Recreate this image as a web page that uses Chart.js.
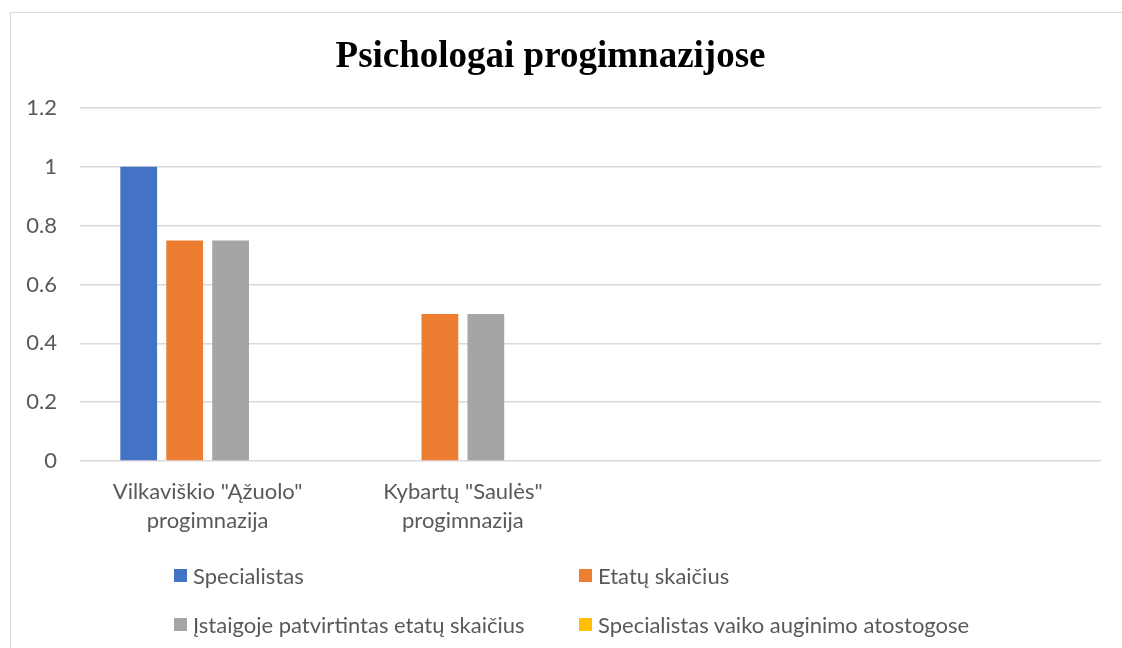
<!DOCTYPE html>
<html>
<head>
<meta charset="utf-8">
<script src="https://cdn.jsdelivr.net/npm/chart.js@4"></script>
<style>
  html, body { margin: 0; padding: 0; background: #ffffff; }
  body { width: 1122px; height: 648px; position: relative; overflow: hidden; }
  #frame { position: absolute; left: 10px; top: 12px; width: 1200px; height: 700px; border: 1.5px solid #d9d9d9; box-sizing: border-box; pointer-events: none; }
  #wrap { position: absolute; left: 0; top: 0; width: 1122px; height: 648px; }
  #legend { position: absolute; left: 0; top: 0; width: 1122px; height: 648px; pointer-events: none; font-family: Lato, "Noto Sans", sans-serif; font-size: 22px; color: #595959; }
  .item { position: absolute; white-space: nowrap; line-height: 26px; height: 26px; }
  .box { position: absolute; left: 0; top: 6px; width: 13px; height: 13px; }
  .lbl { position: absolute; left: 19px; top: 0; }
</style>
</head>
<body>
<div id="frame"></div>
<div id="wrap"><canvas id="c" width="1122" height="648"></canvas></div>
<div id="legend"></div>
<script>
// ---- data ----
const titleText = 'Psichologai progimnazijose';
const categories = [
  ['Vilkaviškio "Ąžuolo"', 'progimnazija'],
  ['Kybartų "Saulės"', 'progimnazija'],
  '',
  ''
];
const seriesNames = [
  'Specialistas',
  'Etatų skaičius',
  'Įstaigoje patvirtintas etatų skaičius',
  'Specialistas vaiko auginimo atostogose'
];
const specialistas = [1, 0, null, null];
const etatuSkaicius = [0.75, 0.5, null, null];
const patvirtintasEtatuSkaicius = [0.75, 0.5, null, null];
const vaikoAuginimoAtostogose = [0, 0, null, null];
const yTickValues = [0, 0.2, 0.4, 0.6, 0.8, 1, 1.2];

const colors = ['#4472C4', '#ED7D31', '#A5A5A5', '#FFC000'];
const seriesValues = [specialistas, etatuSkaicius, patvirtintasEtatuSkaicius, vaikoAuginimoAtostogose];

const datasets = seriesNames.map((name, i) => ({
  label: name,
  data: seriesValues[i],
  backgroundColor: colors[i],
  borderWidth: 0,
  categoryPercentage: 0.72,
  barPercentage: 0.8
}));

const tickFont = { family: 'Lato, "Noto Sans", sans-serif', size: 22, lineHeight: 1.29 };

new Chart(document.getElementById('c'), {
  type: 'bar',
  data: { labels: categories, datasets },
  options: {
    responsive: false,
    animation: false,
    events: [],
    layout: { padding: { left: 0, right: 21, top: 0, bottom: 107 } },
    plugins: {
      legend: { display: false },
      tooltip: { enabled: false },
      title: {
        display: true,
        text: titleText,
        color: '#000000',
        font: { family: '"Liberation Serif", "Times New Roman", serif', size: 37, weight: 'bold', lineHeight: 1.2 },
        padding: { top: 35, bottom: 28.6 }
      }
    },
    scales: {
      x: {
        grid: { display: false, drawTicks: false },
        border: { display: false },
        ticks: { color: '#595959', font: tickFont, maxRotation: 0, minRotation: 0, autoSkip: false, padding: 17 },
        afterFit: s => { s.height = 80; }
      },
      y: {
        min: 0,
        max: 1.2,
        afterBuildTicks: s => { s.ticks = yTickValues.map(v => ({ value: v })); },
        grid: { color: '#d9d9d9', lineWidth: 1.5, drawTicks: false },
        border: { display: false },
        ticks: {
          color: '#595959', font: tickFont, padding: 23,
          callback: v => String(Number(Number(v).toFixed(2)))
        },
        afterFit: s => { s.width = 80; }
      }
    }
  }
});

// ---- legend (HTML, two columns) ----
const legendCols = [174, 579];
const legendRows = [563, 612];
const legendEl = document.getElementById('legend');
seriesNames.forEach((name, i) => {
  const item = document.createElement('div');
  item.className = 'item';
  item.style.left = legendCols[i % 2] + 'px';
  item.style.top = legendRows[Math.floor(i / 2)] + 'px';
  const box = document.createElement('div');
  box.className = 'box';
  box.style.background = colors[i];
  const lbl = document.createElement('div');
  lbl.className = 'lbl';
  lbl.textContent = name;
  item.appendChild(box);
  item.appendChild(lbl);
  legendEl.appendChild(item);
});
</script>
</body>
</html>
